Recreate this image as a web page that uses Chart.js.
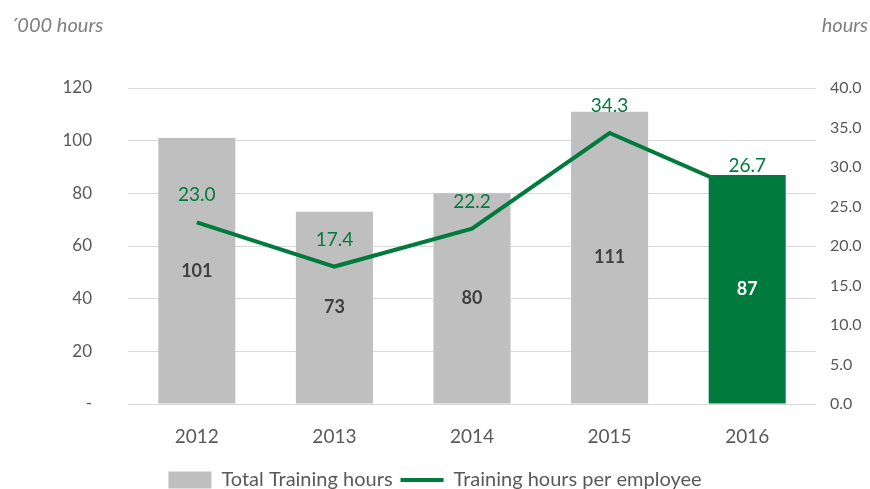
<!DOCTYPE html>
<html>
<head>
<meta charset="utf-8">
<script src="https://cdn.jsdelivr.net/npm/chart.js@4"></script>
<style>
  html, body { margin: 0; padding: 0; background: #fff; }
  #wrap { width: 870px; height: 489px; position: relative; }
</style>
</head>
<body>
<div id="wrap"><canvas id="trainingChart"></canvas></div>
<script>
var years = ['2012', '2013', '2014', '2015', '2016'];
var totalHours = [101, 73, 80, 111, 87];          // '000 hours
var hoursPerEmployee = [23.0, 17.4, 22.2, 34.3, 26.7];
var barColors = ['#BFBFBF', '#BFBFBF', '#BFBFBF', '#BFBFBF', '#007A3D'];

var FONT = 'Lato, "Open Sans", sans-serif';
var GREEN = '#007A3D';

// draws the value labels and the two unit captions
var labelPlugin = {
    id: 'labels',
    afterDatasetsDraw: function(chart) {
        var ctx = chart.ctx;
        ctx.save();
        ctx.textAlign = 'center';
        ctx.textBaseline = 'middle';

        var bars = chart.getDatasetMeta(0).data;
        ctx.font = 'bold 18px ' + FONT;
        bars.forEach(function(bar, i) {
            ctx.fillStyle = i == 4 ? '#ffffff' : '#404040';
            ctx.fillText(totalHours[i], bar.x, (bar.y + bar.base) / 2);
        });

        var pts = chart.getDatasetMeta(1).data;
        ctx.font = '19px ' + FONT;
        ctx.fillStyle = GREEN;
        pts.forEach(function(p, i) {
            ctx.fillText(hoursPerEmployee[i].toFixed(1), p.x, p.y - 27);
        });

        ctx.font = 'italic 20px ' + FONT;
        ctx.fillStyle = '#7F7F7F';
        ctx.textBaseline = 'alphabetic';
        ctx.textAlign = 'left';
        ctx.fillText('\u00B4000 hours', 10, 32);
        ctx.textAlign = 'right';
        ctx.fillText('hours', 868, 32);
        ctx.restore();
    }
};

var ctx = document.getElementById('trainingChart').getContext('2d');
var chart = new Chart(ctx, {
    data: {
        labels: years,
        datasets: [{
            type: 'bar',
            label: 'Total Training hours',
            data: totalHours,
            backgroundColor: barColors,
            borderWidth: 0,
            yAxisID: 'y',
            categoryPercentage: 1,
            barPercentage: 0.56,
            pointStyle: 'rect',
            order: 2
        }, {
            type: 'line',
            label: 'Training hours per employee',
            data: hoursPerEmployee,
            borderColor: GREEN,
            backgroundColor: GREEN,
            borderWidth: 4,
            pointRadius: 0,
            tension: 0,
            yAxisID: 'y1',
            pointStyle: 'line',
            order: 1
        }]
    },
    options: {
        responsive: true,
        maintainAspectRatio: false,
        animation: false,
        layout: { padding: { top: 88, left: 0, right: 0, bottom: -11 } },
        plugins: {
            tooltip: { enabled: false },
            legend: {
                position: 'bottom',
                labels: {
                    usePointStyle: true,
                    pointStyleWidth: 43,
                    boxHeight: 17,
                    padding: 8,
                    color: '#595959',
                    font: { family: FONT, size: 20 },
                    sort: function(a, b) { return a.datasetIndex - b.datasetIndex; }
                }
            }
        },
        scales: {
            x: {
                grid: { display: false },
                border: { display: false },
                ticks: { color: '#595959', font: { family: FONT, size: 19 }, padding: 13 },
                afterFit: function(scale) { scale.height = 58; }
            },
            y: {
                position: 'left',
                min: 0,
                max: 120,
                ticks: {
                    stepSize: 20,
                    color: '#595959',
                    font: { family: FONT, size: 17 },
                    padding: 36,
                    callback: function(v) { return v === 0 ? '-' : v; }
                },
                grid: { color: '#D9D9D9', lineWidth: 1, drawTicks: false },
                border: { display: false },
                afterFit: function(scale) { scale.width = 128; }
            },
            y1: {
                position: 'right',
                min: 0,
                max: 40,
                ticks: {
                    stepSize: 5,
                    color: '#595959',
                    font: { family: FONT, size: 16 },
                    padding: 6,
                    callback: function(v) { return v.toFixed(1); }
                },
                grid: { display: false },
                border: { display: false },
                afterFit: function(scale) { scale.width = 54; }
            }
        }
    },
    plugins: [labelPlugin]
});
</script>
</body>
</html>
